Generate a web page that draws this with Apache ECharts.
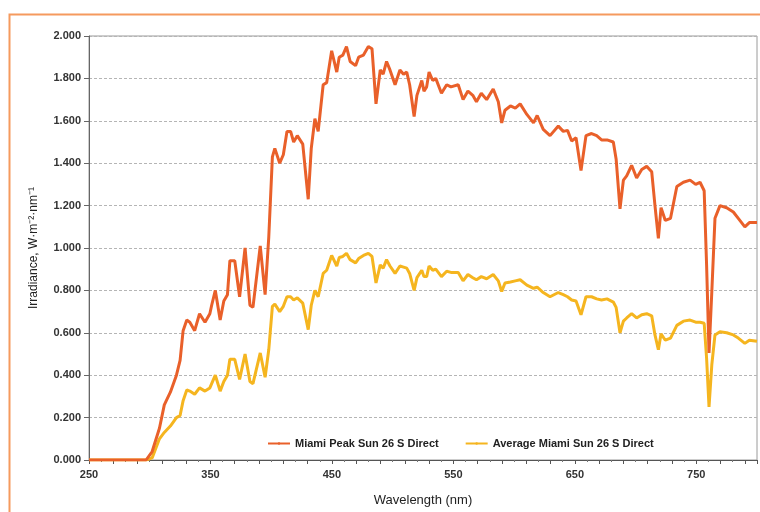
<!DOCTYPE html>
<html>
<head>
<meta charset="utf-8">
<script src="https://cdn.jsdelivr.net/npm/echarts@6/dist/echarts.min.js"></script>
<style>
html,body{margin:0;padding:0;background:#fff;}
#chart{width:760px;height:512px;}
</style>
</head>
<body>
<div id="chart"></div>
<script>
// Wavelength (nm) as labelled on the chart's axis
const wavelengths = [
  250, 280, 297, 302, 308, 312, 317, 322, 325, 327.5,
  330.5, 333, 337, 341, 345.5, 349.5, 351, 354, 358, 361,
  364, 366, 370, 374, 378.5, 382.5, 385, 391, 395, 398,
  401, 403, 407, 410, 413, 416, 418.5, 421.5, 426, 430.5,
  433, 436, 438.7, 442.8, 445.7, 449.8, 454, 456, 459, 462,
  465, 469.5, 472, 476, 480, 483, 486.3, 489.8, 492.2, 495,
  497.8, 502, 506, 509, 511.6, 514, 517.7, 520, 524, 525.8,
  528, 530, 533, 535.5, 540.2, 544.5, 548, 554, 558, 562,
  566, 569, 573, 577.4, 582.8, 587, 589.8, 592.5, 597, 601,
  605, 610.5, 616, 619, 624, 629.6, 636.4, 640.5, 644, 647.4,
  651, 655.1, 659.2, 663.8, 668, 672, 676.5, 681.7, 684, 687.2,
  690, 692.7, 696.8, 700.9, 705.1, 709.2, 713.3, 716, 718.8, 721,
  724.5, 728.8, 734, 739.4, 744.9, 749.5, 753.1, 756.5, 758.5, 760.5,
  762.8, 765.4, 769.5, 775, 780.5, 784.6, 790, 793.7, 800
];
// Miami Peak Sun 26 S Direct
const peakSun = [
  0, 0, 0, 0.04, 0.15, 0.26, 0.32, 0.40, 0.47, 0.61,
  0.66, 0.65, 0.61, 0.69, 0.65, 0.69, 0.73, 0.80, 0.66, 0.75,
  0.78, 0.94, 0.94, 0.77, 1.00, 0.73, 0.72, 1.01, 0.78, 1.05,
  1.43, 1.47, 1.40, 1.44, 1.55, 1.55, 1.50, 1.53, 1.49, 1.23,
  1.47, 1.61, 1.55, 1.77, 1.78, 1.93, 1.83, 1.90, 1.91, 1.95,
  1.88, 1.86, 1.90, 1.91, 1.95, 1.94, 1.68, 1.84, 1.82, 1.88,
  1.84, 1.77, 1.84, 1.82, 1.83, 1.77, 1.62, 1.72, 1.79, 1.74,
  1.76, 1.83, 1.79, 1.80, 1.73, 1.77, 1.76, 1.77, 1.70, 1.74,
  1.72, 1.69, 1.73, 1.70, 1.75, 1.69, 1.59, 1.65, 1.67, 1.66,
  1.68, 1.63, 1.59, 1.625, 1.56, 1.53, 1.575, 1.55, 1.555, 1.505,
  1.52, 1.365, 1.53, 1.54, 1.53, 1.51, 1.51, 1.50, 1.42, 1.185,
  1.32, 1.34, 1.39, 1.33, 1.37, 1.385, 1.36, 1.20, 1.045, 1.19,
  1.13, 1.14, 1.29, 1.31, 1.32, 1.30, 1.31, 1.27, 0.92, 0.505,
  0.795, 1.14, 1.20, 1.19, 1.17, 1.14, 1.10, 1.12, 1.12
];
// Average Miami Sun 26 S Direct
const averageSun = [
  0, 0, 0, 0.01, 0.10, 0.13, 0.16, 0.20, 0.21, 0.28,
  0.33, 0.325, 0.31, 0.34, 0.325, 0.34, 0.36, 0.40, 0.325, 0.37,
  0.40, 0.475, 0.475, 0.38, 0.50, 0.37, 0.36, 0.505, 0.39, 0.52,
  0.725, 0.735, 0.70, 0.725, 0.77, 0.77, 0.755, 0.765, 0.74, 0.615,
  0.73, 0.80, 0.77, 0.88, 0.895, 0.965, 0.915, 0.955, 0.96, 0.975,
  0.945, 0.93, 0.95, 0.965, 0.975, 0.96, 0.835, 0.92, 0.905, 0.945,
  0.915, 0.88, 0.915, 0.91, 0.905, 0.88, 0.80, 0.86, 0.895, 0.865,
  0.865, 0.915, 0.895, 0.90, 0.865, 0.89, 0.885, 0.885, 0.845, 0.875,
  0.86, 0.85, 0.865, 0.855, 0.875, 0.845, 0.795, 0.835, 0.84, 0.845,
  0.85, 0.825, 0.81, 0.815, 0.79, 0.77, 0.79, 0.78, 0.77, 0.755,
  0.75, 0.685, 0.77, 0.77, 0.76, 0.755, 0.76, 0.745, 0.72, 0.60,
  0.655, 0.67, 0.69, 0.67, 0.685, 0.69, 0.68, 0.59, 0.52, 0.595,
  0.565, 0.575, 0.635, 0.655, 0.66, 0.65, 0.65, 0.645, 0.48, 0.25,
  0.45, 0.59, 0.605, 0.60, 0.59, 0.575, 0.55, 0.565, 0.56
];
const xTickLabels = [250, 350, 450, 550, 650, 750];
const yTickLabels = ['0.000','0.200','0.400','0.600','0.800','1.000','1.200','1.400','1.600','1.800','2.000'];
const seriesNames = ['Miami Peak Sun 26 S Direct', 'Average Miami Sun 26 S Direct'];

const X0 = 250; // axis origin (wavelength at left edge)
const toPts = vals => wavelengths.map((w, i) => [w - X0, vals[i]]);

const chart = echarts.init(document.getElementById('chart'), null, {renderer: 'canvas'});
const font = '"Liberation Sans", Arial, sans-serif';

chart.setOption({
  animation: false,
  backgroundColor: '#ffffff',
  graphic: [{
    type: 'rect', left: 7, top: 12, silent: true,
    shape: {x: 0, y: 0, width: 800, height: 600},
    style: {fill: 'none', stroke: '#F59A5E', lineWidth: 2}
  }],
  grid: {left: 89, right: 3, top: 36, bottom: 49, show: true, borderColor: '#9a9a9a', borderWidth: 1, backgroundColor: 'transparent'},
  legend: {
    left: 262, top: 433,
    itemWidth: 22, itemHeight: 3, itemGap: 26,
    textStyle: {fontFamily: font, fontSize: 11, fontWeight: 'bold', color: '#222'},
    data: seriesNames
  },
  xAxis: {
    type: 'value', min: 0, max: 550, interval: 20,
    name: 'Wavelength (nm)', nameLocation: 'middle', nameGap: 34,
    nameTextStyle: {fontFamily: font, fontSize: 13, color: '#222'},
    axisLine: {lineStyle: {color: '#555', width: 1}},
    axisTick: {show: true, length: 4, lineStyle: {color: '#555'}},
    minorTick: {show: true, splitNumber: 2, length: 2, lineStyle: {color: '#777'}},
    splitLine: {show: false},
    axisLabel: {
      fontFamily: font, fontSize: 11, fontWeight: 'bold', color: '#333', margin: 9,
      formatter: v => { const w = Math.round(v + X0); return xTickLabels.indexOf(w) >= 0 ? String(w) : ''; }
    }
  },
  yAxis: {
    type: 'value', min: 0, max: 2, interval: 0.2,
    name: 'Irradiance, W\u00b7m\u207b\u00b2\u00b7nm\u207b\u00b9', nameLocation: 'middle', nameGap: 49,
    nameTextStyle: {fontFamily: font, fontSize: 12, color: '#222'},
    axisLine: {show: true, lineStyle: {color: '#666', width: 1}},
    axisTick: {show: true, length: 5, lineStyle: {color: '#666'}},
    splitLine: {show: true, lineStyle: {color: '#b5b5b5', type: [3, 2], width: 1}},
    axisLabel: {
      fontFamily: font, fontSize: 11, fontWeight: 'bold', color: '#333', margin: 8,
      formatter: v => yTickLabels[Math.round(v / 0.2)]
    }
  },
  series: [
    {name: seriesNames[0], type: 'line', data: toPts(peakSun), symbol: 'none', z: 3,
     lineStyle: {color: '#E9602A', width: 3}, itemStyle: {color: '#E9602A'}},
    {name: seriesNames[1], type: 'line', data: toPts(averageSun), symbol: 'none', z: 2,
     lineStyle: {color: '#F5B51F', width: 3}, itemStyle: {color: '#F5B51F'}}
  ]
});
</script>
</body>
</html>
